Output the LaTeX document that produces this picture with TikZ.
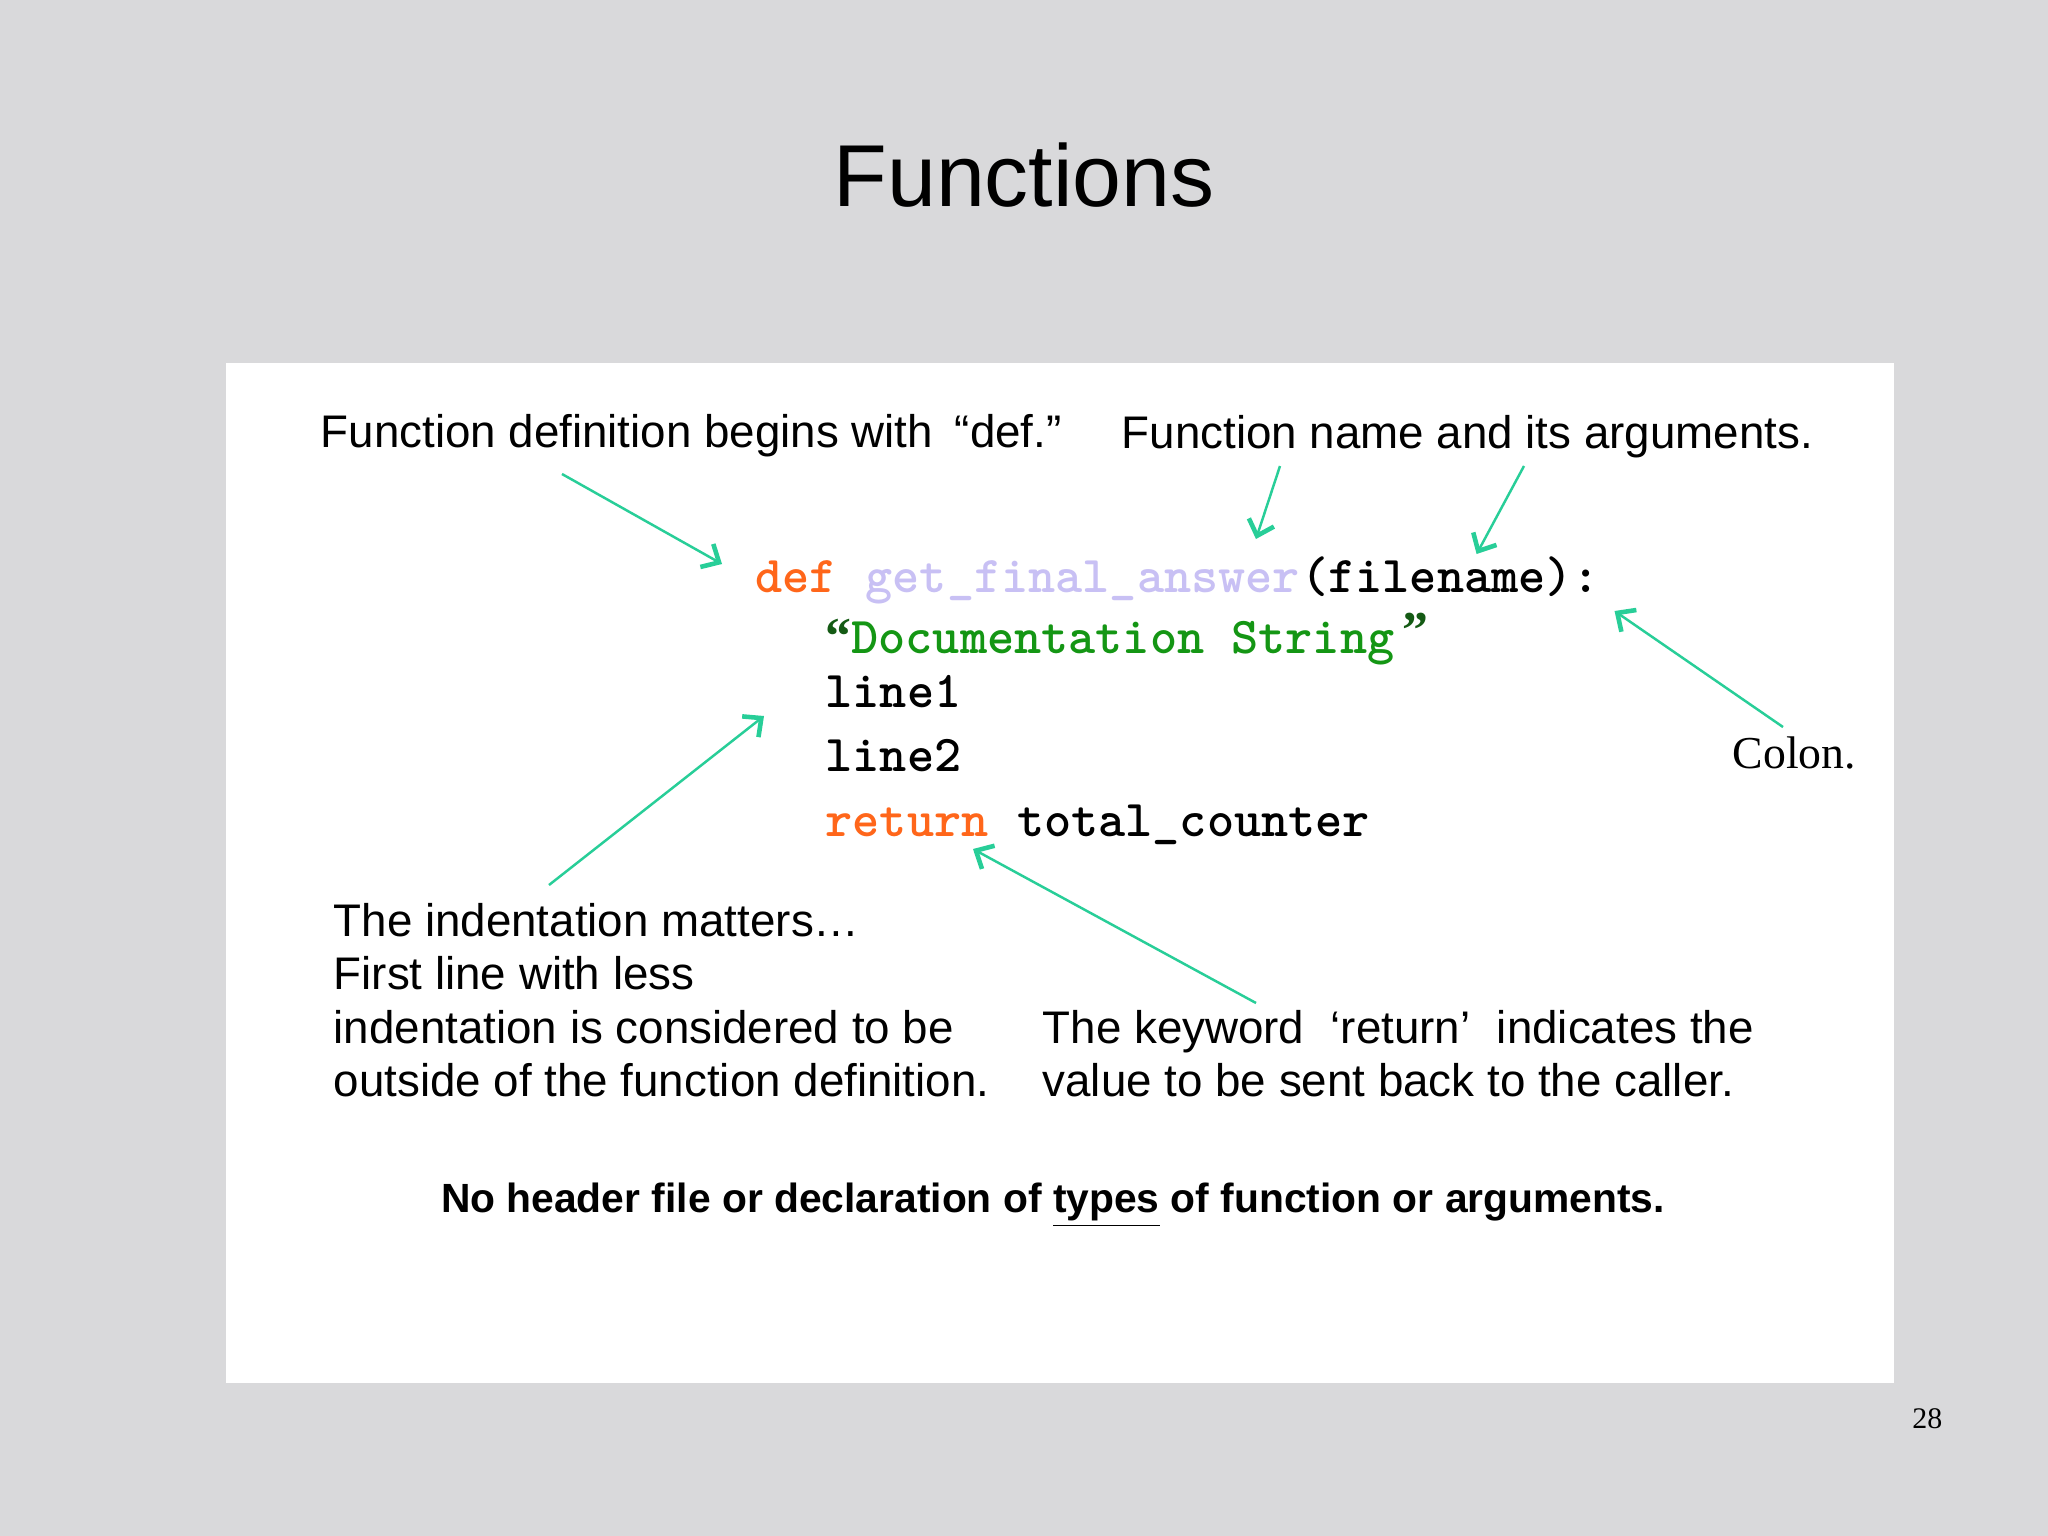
\documentclass[tikz,border=0pt]{standalone}
\usepackage{fontspec}
\setmainfont{Liberation Sans}
\newfontfamily\serifnote{Liberation Serif}
\usepackage{xcolor}
\usetikzlibrary{arrows.meta, positioning, calc}
\definecolor{slidebg}{RGB}{217,217,219}
\definecolor{arrgreen}{RGB}{40,206,152}
\definecolor{kworange}{RGB}{255,102,26}
\definecolor{kwlav}{RGB}{200,192,244}
\definecolor{docgreen}{RGB}{20,150,20}
\definecolor{quotegreen}{RGB}{20,90,20}

\begin{document}
\begin{tikzpicture}[x=0.01cm, y=-0.01cm,
  note/.style={inner sep=0pt, anchor=base west, font=\fontsize{13}{15.1}\selectfont},
  block/.style={inner sep=0pt, anchor=north west, align=left, font=\fontsize{13}{15.1}\selectfont},
  code/.style={inner sep=0pt, anchor=base west, font=\fontsize{14.7}{17}\selectfont\ttfamily\bfseries},
  arr/.style={draw=arrgreen, line width=0.7pt, -{Straight Barb[length=4pt, width=7.5pt, line width=1.3pt]}}
]
  % slide and panel
  \fill[slidebg] (0,0) rectangle (2048,1536);
  \fill[white] (226,363) rectangle (1894,1383);
  \node[inner sep=0pt, anchor=base, font=\fontsize{25}{30}\selectfont] (title) at (1024,206) {Functions};
  \node[inner sep=0pt, anchor=base east, font=\serifnote\fontsize{8.5}{10}\selectfont] (pageno) at (1943,1428) {28};

  % code
  \node[code, text=kworange] (kwdef) at (755,592) {def\hphantom{x}};
  \node[code, text=kwlav, base right=0pt of kwdef] (fname) {get\_final\_answer};
  \node[code, base right=0pt of fname] (fargs) {(filename):};
  \node[code, text=docgreen] (docstr) at (825,653)
    {{\serifnote\color{quotegreen}“}Documentation String{\serifnote\color{quotegreen}\raisebox{0.1em}{\,”}}};
  \node[code] (line1) at (825,707) {line1};
  \node[code] (line2) at (825,771) {line2};
  \node[code, text=kworange] (kwret) at (825,836) {return\hphantom{x}};
  \node[code, base right=0pt of kwret] (retval) {total\_counter};

  % notes
  \node[note] (defnote) at (320,447) {Function definition begins with \hspace{0.2em}“def.”};
  \node[note] (argnote) at (1121,448) {Function name and its arguments.};
  \node[note, font=\serifnote\fontsize{13}{15.1}\selectfont] (colnote) at (1732,768) {Colon.};
  \node[block] (indnote) at (333,903) {The indentation matters…\\First line with less\\indentation is considered to be\\outside of the function definition.};
  \node[block] (retnote) at (1042,1010) {The keyword \hspace{0.3em}‘return’\hspace{0.3em} indicates the\\value to be sent back to the caller.};
  \node[inner sep=0pt, anchor=base, font=\fontsize{11.6}{14}\selectfont\bfseries] (nohdr) at (1053,1212)
    {No header file or declaration of \underline{types} of function or arguments.};

  % arrows
  \draw[arr] ($(defnote.base west)+(242,27)$) -- ($(kwdef.base west)+(-33,-28)$);
  \draw[arr] ($(argnote.base west)+(159,18)$) -- ($(fname.base west)+(391,-53)$);
  \draw[arr] ($(argnote.base west)+(403,18)$) -- ($(fargs.base west)+(176,-38)$);
  \draw[arr] ($(colnote.base west)+(51,-41)$) -- ($(fargs.base east)+(14,19)$);
  \draw[arr] ($(indnote.north west)+(216,-18)$) -- ($(line1.base west)+(-61,9)$);
  \draw[arr] ($(retnote.north west)+(214,-7)$) -- ($(kwret.base west)+(148,13)$);
\end{tikzpicture}
\end{document}
